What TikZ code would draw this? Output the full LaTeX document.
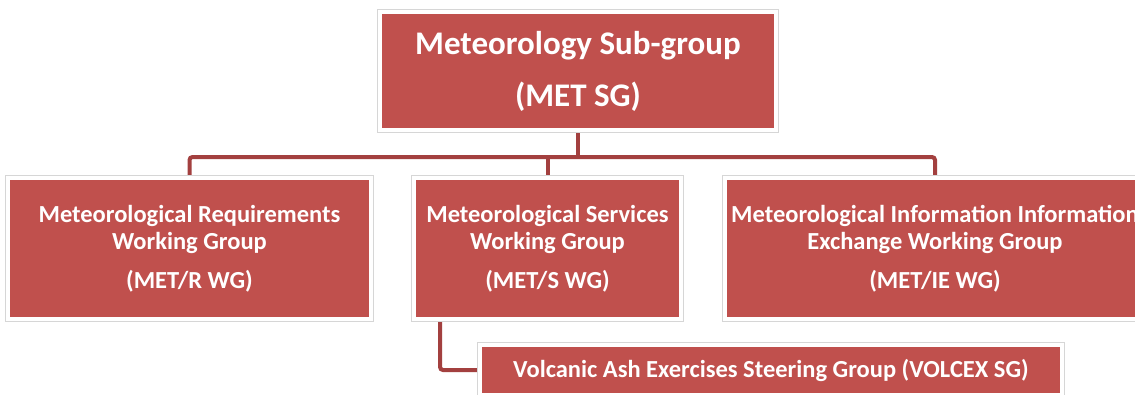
\documentclass[tikz,border=0pt]{standalone}
\usepackage{fontspec}
\setmainfont{Carlito}
\usetikzlibrary{backgrounds}
\definecolor{boxred}{HTML}{C0504D}
\definecolor{connred}{HTML}{A3403F}
\definecolor{shadowgray}{HTML}{D6D6D6}
\tikzset{
  orgbox/.style={draw=white, line width=4bp, fill=boxred, inner sep=0pt,
    preaction={draw=shadowgray, line width=6bp},
    text=white, font=\bfseries\fontsize{24.5bp}{27bp}\selectfont, align=center},
  conn/.style={draw=connred, line width=4bp, rounded corners=3bp},
}
\begin{document}
\begin{tikzpicture}[x=1bp,y=-1bp]
\useasboundingbox (0,0) rectangle (1135,394);
\clip (0,0) rectangle (1135,394);
\coordinate (bus) at (578,157);
\coordinate (vx) at (440,0);
\path
  (578,71) node[orgbox, minimum width=396bp, minimum height=118bp,
     font=\bfseries\fontsize{33bp}{52bp}\selectfont] (top) {Meteorology Sub-group\\(MET SG)}
  (189.5,248.5) node[orgbox, minimum width=363bp, minimum height=141bp] (left)
     {Meteorological Requirements\\Working Group\\[12bp](MET/R WG)}
  (547.5,248.5) node[orgbox, minimum width=267bp, minimum height=141bp] (mid)
     {Meteorological Services\\Working Group\\[12bp](MET/S WG)}
  (935,248.5) node[orgbox, minimum width=420bp, minimum height=141bp] (right)
     {Meteorological Information Information\\Exchange Working Group\\[12bp](MET/IE WG)}
  (771,370) node[orgbox, minimum width=582bp, minimum height=50bp] (bot)
     {Volcanic Ash Exercises Steering Group (VOLCEX SG)};
\begin{scope}[on background layer]
  \fill[white] (0,0) rectangle (1135,394);
  \draw[conn] (left.north) |- (bus) -| (right.north);
  \draw[conn] (top.south) -- (bus);
  \draw[conn] (mid.north) -- (mid.north |- bus);
  \draw[conn] (mid.south -| vx) |- (bot.west);
\end{scope}
\end{tikzpicture}
\end{document}
